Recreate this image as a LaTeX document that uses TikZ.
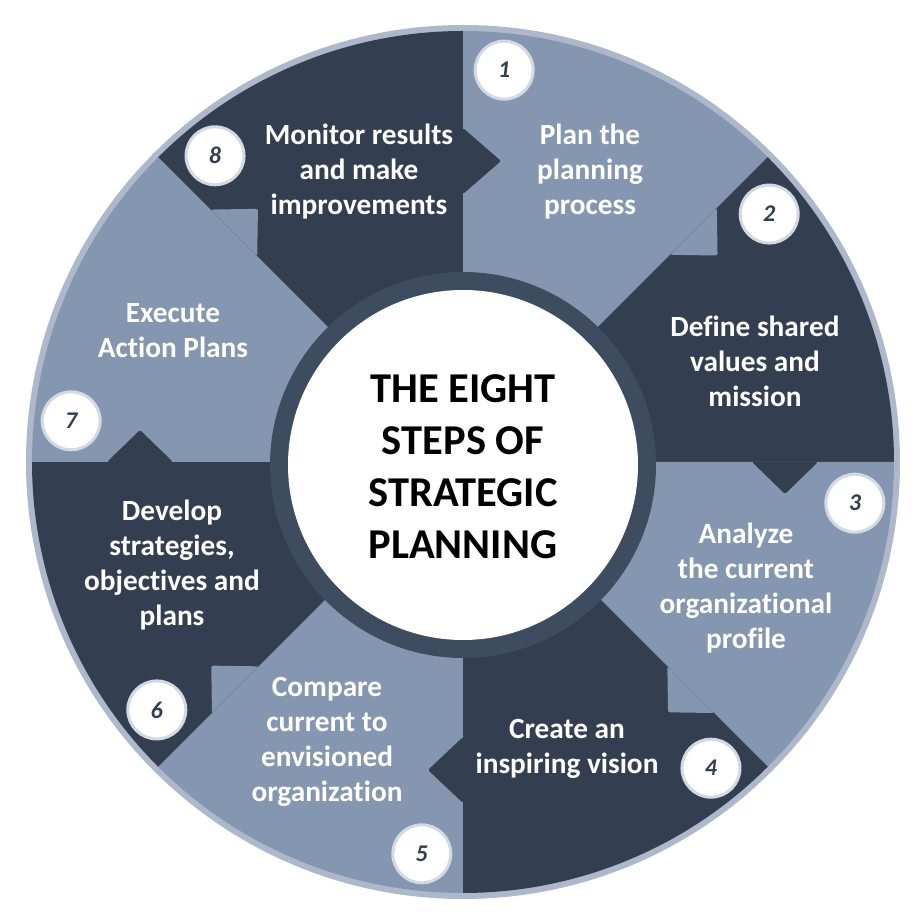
\documentclass[tikz,border=0pt]{standalone}
\usepackage{fontspec}
\setmainfont[Ligatures=NoCommon]{Carlito}
\usetikzlibrary{calc}
\definecolor{segLight}{HTML}{8496B0}
\definecolor{segDark}{HTML}{333F50}
\definecolor{hubRing}{HTML}{3E4C5F}
\definecolor{rimGray}{HTML}{ADB9CA}
\definecolor{badgeRim}{HTML}{D3D9E3}
\tikzset{
  sector/.style args={#1:#2:#3}{
    insert path={(0,0) -- (#1:#3) arc (#1:#2:#3) -- cycle}
  },
  notch/.style args={#1:#2:#3}{
    insert path={(#1:#2-33) -- ($(#1:#2)+(#1-90:#3)$) -- (#1:#2+33) -- cycle}
  },
  steplabel/.style={text=white, align=center,
    font=\bfseries\fontsize{29.3}{35}\selectfont},
  badge/.style={circle, fill=white, draw=badgeRim, line width=3pt,
    minimum size=58pt, inner sep=0pt, text=segDark,
    font=\bfseries\itshape\fontsize{24}{24}\selectfont}
}

\begin{document}
\begin{tikzpicture}[x=1pt, y=1pt]
    \useasboundingbox (-463,-458) rectangle (459,462);

    \fill[rimGray] (0,0) circle (437);

    % the eight slices
    \fill[segLight] [sector=90:45:431];
    \fill[segDark] [sector=45:0:431];
    \fill[segLight] [sector=0:-45:431];
    \fill[segDark] [sector=-45:-90:431];
    \fill[segLight] [sector=-90:-135:431];
    \fill[segDark] [sector=-135:-180:431];
    \fill[segLight] [sector=180:135:431];
    \fill[segDark] [sector=135:90:431];

    % arrow tips pushing into the next slice
    \fill[segDark, rounded corners=2pt] [notch=90:301:38];
    \fill[segLight, rounded corners=2pt] [notch=45:326:34];
    \fill[segDark, rounded corners=2pt] [notch=0:322:32];
    \fill[segLight, rounded corners=2pt] [notch=-45:322:32];
    \fill[segDark, rounded corners=2pt] [notch=-90:308:35];
    \fill[segLight, rounded corners=2pt] [notch=-135:322:34];
    \fill[segDark, rounded corners=2pt] [notch=180:323:32];
    \fill[segLight, rounded corners=2pt] [notch=135:324:34];

    \fill[hubRing] (0,-3) circle (193);
    \fill[white] (0,-3) circle (175);

    \node[align=center, font=\bfseries\fontsize{42.5}{52}\selectfont] (hub) at (0,-5)
      {THE EIGHT\\STEPS OF\\STRATEGIC\\PLANNING};

    \node[steplabel] (planStep) at (127,290) {Plan the\\planning\\process};
    \node[steplabel] (defineStep) at (292,101) {Define shared\\values and\\mission};
    \node[steplabel] (analyzeStep) at (283,-126) {Analyze\\the current\\organizational\\profile};
    \node[steplabel] (visionStep) at (104,-287) {Create an\\inspiring vision};
    \node[steplabel] (compareStep) at (-136,-280) {Compare\\current to\\envisioned\\organization};
    \node[steplabel] (developStep) at (-291,-103) {Develop\\strategies,\\objectives and\\plans};
    \node[steplabel] (executeStep) at (-290,131) {Execute\\Action Plans};
    \node[steplabel] (monitorStep) at (-104,290) {Monitor results\\and make\\improvements};

    \node[badge] (n1) at (84:394) {1};
    \node[badge] (n2) at (39:394) {2};
    \node[badge] (n3) at (-6:394) {3};
    \node[badge] (n4) at (-51:394) {4};
    \node[badge] (n5) at (-96:394) {5};
    \node[badge] (n6) at (-141:394) {6};
    \node[badge] (n7) at (174:394) {7};
    \node[badge] (n8) at (129:394) {8};
\end{tikzpicture}
\end{document}
